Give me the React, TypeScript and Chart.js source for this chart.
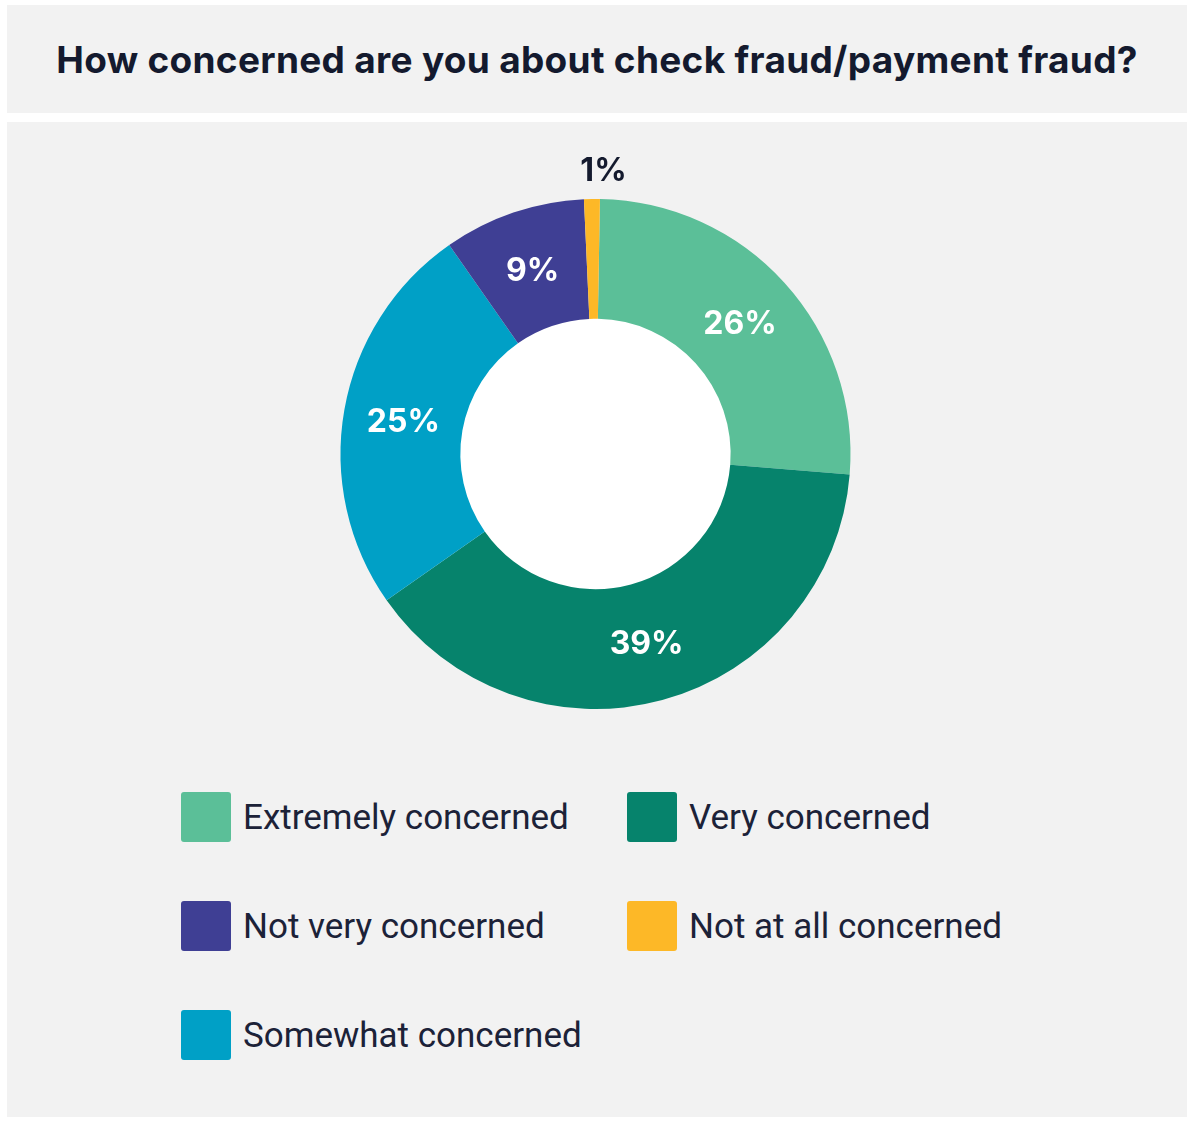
import React, { useEffect, useRef } from 'react';
import { Chart, ArcElement, DoughnutController, Plugin } from 'chart.js';

Chart.register(ArcElement, DoughnutController);

// survey answers, clockwise from 12 o'clock
const categories = [
  'Extremely concerned',
  'Very concerned',
  'Somewhat concerned',
  'Not very concerned',
  'Not at all concerned',
];
const shares = [26, 39, 25, 9, 1];
const sliceColors = ['#5bbf98', '#06836c', '#00a0c6', '#3f3f94', '#fdb827'];
// legend is read row by row, two columns
const legendOrder = [0, 1, 3, 4, 2];

const TITLE = 'How concerned are you about check fraud/payment fraud?';
const INK = '#141a2e';
const PANEL = '#f2f2f2';
const LABEL_SIZE = 32;

const percentLabels: Plugin<'doughnut'> = {
  id: 'percentLabels',
  beforeDatasetsDraw(chart) {
    // white hole in the middle
    const arc = chart.getDatasetMeta(0).data[0] as any;
    if (!arc) return;
    const { x, y, innerRadius } = arc.getProps(['x', 'y', 'innerRadius'], true);
    const { ctx } = chart;
    ctx.save();
    ctx.fillStyle = '#ffffff';
    ctx.beginPath();
    ctx.arc(x, y, innerRadius + 1, 0, Math.PI * 2);
    ctx.fill();
    ctx.restore();
  },
  afterDatasetsDraw(chart) {
    const { ctx } = chart;
    const meta = chart.getDatasetMeta(0);
    ctx.save();
    ctx.font = `bold ${LABEL_SIZE}px Inter, "Noto Sans", sans-serif`;
    ctx.textAlign = 'center';
    ctx.textBaseline = 'alphabetic';
    meta.data.forEach((el, i) => {
      const { startAngle, endAngle, x, y, innerRadius, outerRadius } = (el as any).getProps(
        ['startAngle', 'endAngle', 'x', 'y', 'innerRadius', 'outerRadius'],
        true
      );
      const mid = (startAngle + endAngle) / 2;
      const small = shares[i] < 3;
      const r = small ? outerRadius + 30 : (innerRadius + outerRadius) / 2;
      ctx.fillStyle = small ? INK : '#ffffff';
      ctx.fillText(
        `${shares[i]}%`,
        x + Math.cos(mid) * r + (small ? 12 : 0),
        y + Math.sin(mid) * r + LABEL_SIZE * 0.36
      );
    });
    ctx.restore();
  },
};

const App: React.FC = () => {
  const canvasRef = useRef<HTMLCanvasElement | null>(null);

  useEffect(() => {
    if (!canvasRef.current) return;
    const chart = new Chart(canvasRef.current, {
      type: 'doughnut',
      data: {
        labels: categories,
        datasets: [
          {
            data: shares,
            backgroundColor: sliceColors,
            borderWidth: 0,
          },
        ],
      },
      options: {
        responsive: true,
        maintainAspectRatio: false,
        animation: false,
        rotation: 1,
        cutout: '53%',
        layout: { padding: { top: 77, bottom: 77, left: 0, right: 3 } },
        plugins: {
          legend: { display: false },
          tooltip: { enabled: false },
        },
      },
      plugins: [percentLabels],
    });
    return () => {
      chart.destroy();
    };
  }, []);

  return (
    <div
      style={{
        position: 'absolute',
        left: 7,
        top: 5,
        width: 1180,
        fontFamily: 'Inter, "Noto Sans", sans-serif',
        color: INK,
      }}
    >
      <div
        style={{
          background: PANEL,
          height: 108,
          display: 'flex',
          alignItems: 'center',
          justifyContent: 'center',
          fontSize: 37,
          fontWeight: 700,
          letterSpacing: 0.3,
        }}
      >
        {TITLE}
      </div>
      <div style={{ background: PANEL, marginTop: 9, height: 995, position: 'relative' }}>
        <div style={{ position: 'relative', width: 1180, height: 664 }}>
          <canvas ref={canvasRef} />
        </div>
        <div
          style={{
            display: 'grid',
            gridTemplateColumns: '446px 446px',
            rowGap: 59,
            paddingLeft: 174,
            marginTop: 6,
          }}
        >
          {legendOrder.map(i => (
            <div key={categories[i]} style={{ display: 'flex', alignItems: 'center', height: 50 }}>
              <span
                style={{
                  width: 50,
                  height: 50,
                  borderRadius: 3,
                  background: sliceColors[i],
                  marginRight: 12,
                  flex: 'none',
                }}
              />
              <span
                style={{
                  fontFamily: 'Roboto, "Noto Sans", sans-serif',
                  fontSize: 35,
                  fontWeight: 400,
                  color: '#1c2238',
                }}
              >
                {categories[i]}
              </span>
            </div>
          ))}
        </div>
      </div>
    </div>
  );
};

export default App;
